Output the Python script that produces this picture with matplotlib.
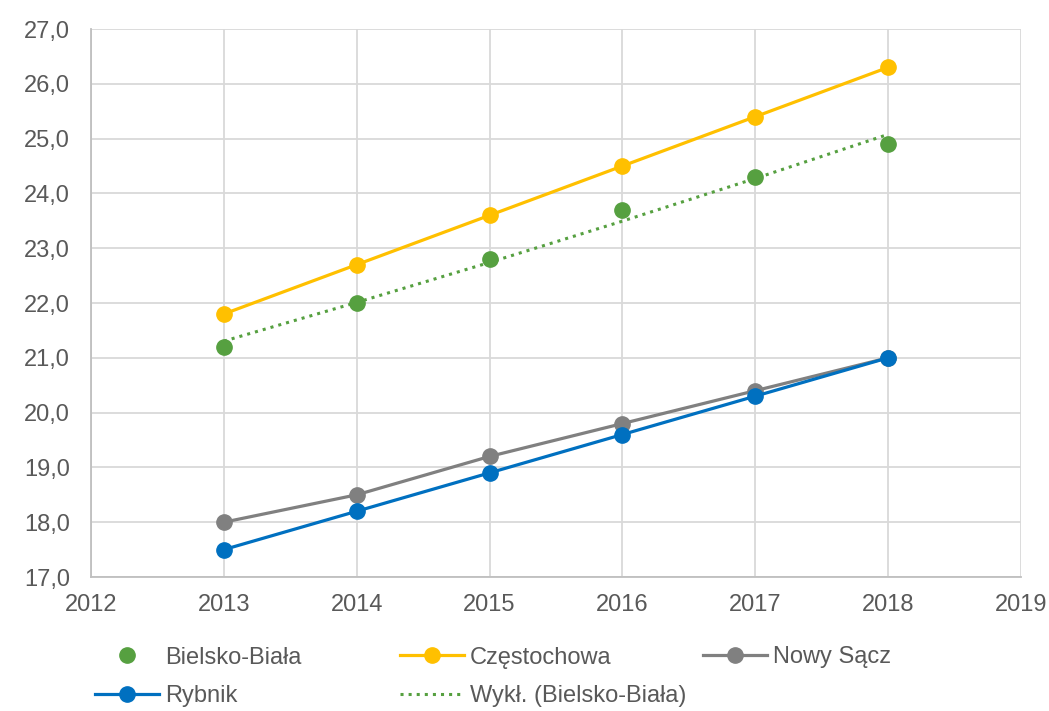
import numpy as np
import matplotlib.pyplot as plt
from matplotlib.ticker import FuncFormatter

plt.rcParams['font.family'] = ['Liberation Sans', 'DejaVu Sans']

years = [2013, 2014, 2015, 2016, 2017, 2018]
bielsko = [21.2, 22.0, 22.8, 23.7, 24.3, 24.9]
czest = [21.8, 22.7, 23.6, 24.5, 25.4, 26.3]
nowy = [18.0, 18.5, 19.2, 19.8, 20.4, 21.0]
rybnik = [17.5, 18.2, 18.9, 19.6, 20.3, 21.0]

# exponential trendline of Bielsko-Biala (like Excel "Wykl.")
b, a = np.polyfit(years, np.log(bielsko), 1)
trend = np.exp(a + b * np.array(years))

txt = '#595959'
W, H = 1049, 711
fig = plt.figure(figsize=(W/100, H/100), dpi=100)
ax = fig.add_axes([91/W, 1-577/H, 930/W, 548/H])

ms = 11
lw = 2.3
h_bb, = ax.plot(years, bielsko, 'o', color='#56A040', ms=ms, zorder=4, label='Bielsko-Biała')
h_cz, = ax.plot(years, czest, '-o', color='#FFC000', ms=ms, lw=lw, zorder=3, label='Częstochowa')
h_ns, = ax.plot(years, nowy, '-o', color='#808080', ms=ms, lw=lw, zorder=3, label='Nowy Sącz')
h_ry, = ax.plot(years, rybnik, '-o', color='#0070C0', ms=ms, lw=lw, zorder=3, label='Rybnik')
h_tr, = ax.plot(years, trend, ':', color='#56A040', lw=2.2, zorder=3, label='Wykł. (Bielsko-Biała)')

ax.set_xlim(2012, 2019)
ax.set_ylim(17, 27)
ax.set_xticks(range(2012, 2020))
ax.set_yticks(range(17, 28))
ax.yaxis.set_major_formatter(FuncFormatter(lambda v, p: f'{v:.1f}'.replace('.', ',')))
ax.grid(True, color='#D9D9D9', lw=1.3)
ax.set_axisbelow(True)
for s in ['top', 'right']:
    ax.spines[s].set_visible(False)
for s in ['left', 'bottom']:
    ax.spines[s].set_color('#BFBFBF')
    ax.spines[s].set_linewidth(1.3)
ax.tick_params(length=0, labelsize=17, colors=txt)
ax.tick_params(axis='y', pad=15)
ax.tick_params(axis='x', pad=12)

# legend: three fixed-width columns
cols = [([h_bb, h_ry], 95, 677), ([h_cz, h_tr], 400, 677), ([h_ns], 703, 657)]
for hs, x0, yc in cols:
    leg = fig.legend(hs, [h.get_label() for h in hs], loc='center left',
                     bbox_to_anchor=(x0/W, 1-yc/H), frameon=False, fontsize=17,
                     handlelength=2.7, handletextpad=0.25, labelspacing=0.7,
                     borderpad=0, borderaxespad=0)
    for t in leg.get_texts():
        t.set_color(txt)

fig.savefig('out.png', dpi=100)
